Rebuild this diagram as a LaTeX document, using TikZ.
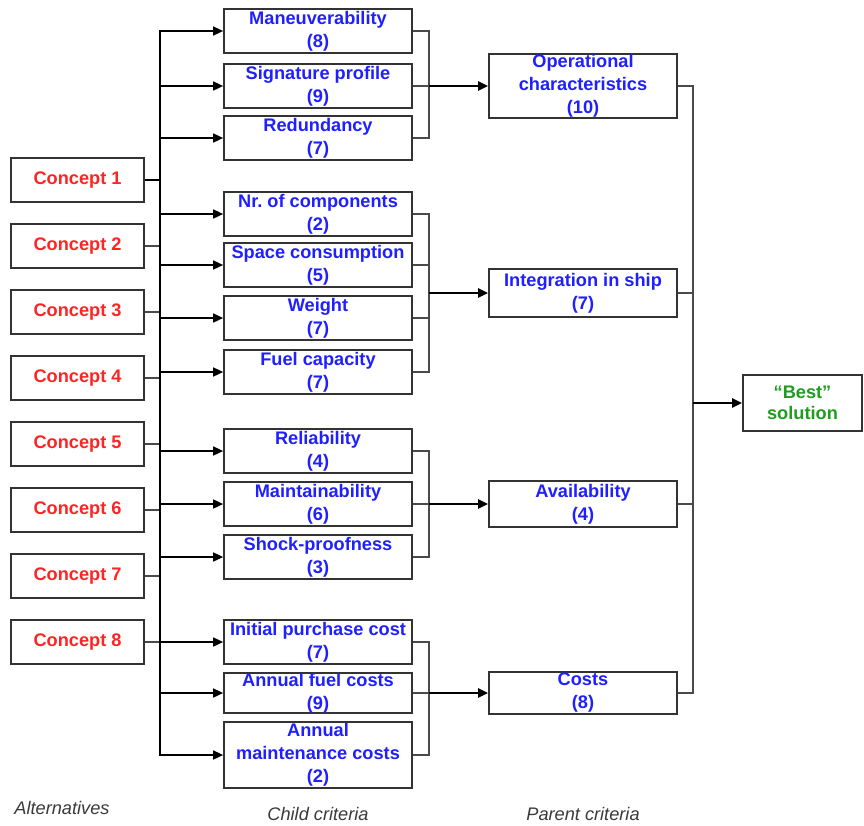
\documentclass[tikz,border=0pt]{standalone}
\usepackage{fontspec}
\setmainfont{Liberation Sans}
\usetikzlibrary{arrows.meta}
\definecolor{conred}{HTML}{FF2424}
\definecolor{critblue}{HTML}{1F1FFF}
\definecolor{bestgreen}{HTML}{1E9E1E}
\definecolor{boxgray}{HTML}{333333}
\definecolor{linegray}{HTML}{4A4A4A}
\definecolor{labgray}{HTML}{3A3A3A}
\begin{document}
\begin{tikzpicture}[x=1pt,y=-1pt,
  font=\fontsize{18.2}{23}\selectfont\bfseries,
  box/.style={draw=boxgray,line width=1.7pt,fill=white,inner sep=0pt,align=center,minimum width=188pt,minimum height=44pt},
  conbox/.style={box,text=conred,minimum width=133pt},
  childbox/.style={box,text=critblue},
  parbox/.style={box,text=critblue},
  bestbox/.style={box,text=bestgreen,minimum width=119pt,minimum height=56pt,font=\fontsize{18.2}{21}\selectfont\bfseries},
  graylink/.style={draw=linegray,line width=1.6pt},
  blacklink/.style={draw=black,line width=2.6pt},
  branch/.style={draw=black,line width=1.6pt,-{Triangle[length=10pt,width=9pt]}},
  tharrow/.style={draw=black,line width=2.4pt,-{Triangle[length=10pt,width=9pt]}},
  lab/.style={text=labgray,font=\fontsize{18.2}{22}\selectfont\itshape}]
\useasboundingbox (0,0) rectangle (864,825);

% Alternatives
\foreach \i in {1,...,8}{
  \node[conbox] (k\i) at (77.5,{180+66*(\i-1)}) {Concept \i};
}

% Child criteria
\node[childbox] (c1) at (318,31) {Maneuverability\\(8)};
\node[childbox] (c2) at (318,86) {Signature profile\\(9)};
\node[childbox] (c3) at (318,138) {Redundancy\\(7)};
\node[childbox] (c4) at (318,214) {Nr.\ of components\\(2)};
\node[childbox] (c5) at (318,265) {Space consumption\\(5)};
\node[childbox] (c6) at (318,318) {Weight\\(7)};
\node[childbox] (c7) at (318,372) {Fuel capacity\\(7)};
\node[childbox] (c8) at (318,451) {Reliability\\(4)};
\node[childbox] (c9) at (318,504) {Maintainability\\(6)};
\node[childbox] (c10) at (318,557) {Shock-proofness\\(3)};
\node[childbox] (c11) at (318,642) {Initial purchase cost\\(7)};
\node[childbox,minimum height=40pt] (c12) at (318,693) {Annual fuel costs\\(9)};
\node[childbox,minimum height=66pt] (c13) at (318,755) {Annual\\maintenance costs\\(2)};

% Parent criteria
\node[parbox,minimum height=64pt] (p1) at (583,86) {Operational\\characteristics\\(10)};
\node[parbox,minimum height=48pt] (p2) at (583,293) {Integration in ship\\(7)};
\node[parbox,minimum height=46pt] (p3) at (583,504) {Availability\\(4)};
\node[parbox,minimum height=42pt] (p4) at (583,693) {Costs\\(8)};

% Best
\node[bestbox] (best) at (802.5,403) {\textquotedblleft Best\textquotedblright\\solution};

% bus coordinates
\coordinate (bustop) at (160,31);
\coordinate (busbot) at (160,755);

% concept links
\draw[blacklink] (k1.east) -- (k1.east -| bustop);
\foreach \i in {2,...,8}{
  \draw[graylink] (k\i.east) -- (k\i.east -| bustop);
}
% bus
\draw[blacklink,line cap=rect] (bustop) -- (busbot);
% branches to children
\foreach \i in {1,...,13}{
  \draw[branch] (c\i.west -| bustop) -- (c\i.west);
}

% brackets
\coordinate (bx) at (429,0);
\draw[graylink] (c1.east) -| (c1.east -| bx) -- (c3.east -| bx) -- (c3.east);
\draw[graylink] (c2.east) -- (c2.east -| bx);
\draw[tharrow] (c2.east -| bx) -- (p1.west);

\draw[graylink] (c4.east) -| (c4.east -| bx) -- (c7.east -| bx) -- (c7.east);
\draw[graylink] (c5.east) -- (c5.east -| bx);
\draw[graylink] (c6.east) -- (c6.east -| bx);
\draw[tharrow] (p2.west -| bx) -- (p2.west);

\draw[graylink] (c8.east) -| (c8.east -| bx) -- (c10.east -| bx) -- (c10.east);
\draw[graylink] (c9.east) -- (c9.east -| bx);
\draw[tharrow] (c9.east -| bx) -- (p3.west);

\draw[graylink] (c11.east) -| (c11.east -| bx) -- (c13.east -| bx) -- (c13.east);
\draw[graylink] (c12.east) -- (c12.east -| bx);
\draw[tharrow] (c12.east -| bx) -- (p4.west);

% right bus
\coordinate (rx) at (693,0);
\draw[graylink] (p1.east) -- (p1.east -| rx) -- (p4.east -| rx) -- (p4.east);
\draw[graylink] (p2.east) -- (p2.east -| rx);
\draw[graylink] (p3.east) -- (p3.east -| rx);
\draw[tharrow] (best.west -| rx) -- (best.west);

% column labels
\node[lab] (l1) at (62,808) {Alternatives};
\node[lab] (l2) at (318,814) {Child criteria};
\node[lab] (l3) at (583,814) {Parent criteria};
\end{tikzpicture}
\end{document}
